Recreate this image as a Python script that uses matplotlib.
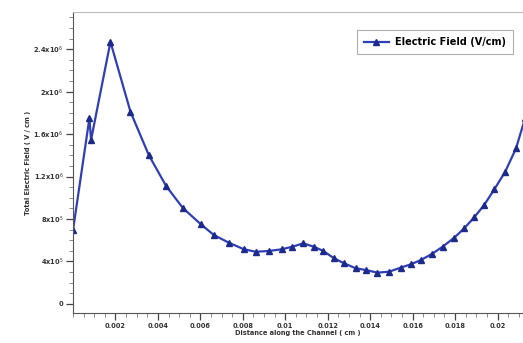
import matplotlib
matplotlib.use("Agg")
import matplotlib.pyplot as plt
from matplotlib.ticker import MultipleLocator, FixedLocator

distance_cm = [0.0, 0.000774, 0.000849, 0.001764, 0.002708, 0.003571, 0.004387, 0.005175,
               0.006009, 0.006637, 0.007344, 0.008052, 0.008604, 0.009231, 0.009830, 0.01033,
               0.01085, 0.01135, 0.01179, 0.01230, 0.01277, 0.01332, 0.01379, 0.01434,
               0.01489, 0.01544, 0.01592, 0.01639, 0.01691, 0.01741, 0.01796, 0.01843,
               0.01890, 0.01937, 0.01985, 0.02036, 0.02087, 0.02130]
field_v_cm = [6.96e5, 1.751e6, 1.544e6, 2.469e6, 1.810e6, 1.402e6, 1.111e6, 9.04e5,
              7.53e5, 6.49e5, 5.77e5, 5.15e5, 4.92e5, 4.99e5, 5.15e5, 5.39e5,
              5.71e5, 5.39e5, 4.99e5, 4.30e5, 3.83e5, 3.36e5, 3.20e5, 2.95e5,
              3.04e5, 3.42e5, 3.74e5, 4.14e5, 4.71e5, 5.39e5, 6.24e5, 7.12e5,
              8.16e5, 9.32e5, 1.080e6, 1.245e6, 1.465e6, 1.75e6]

x_ticks = [0.002, 0.004, 0.006, 0.008, 0.010, 0.012, 0.014, 0.016, 0.018, 0.020]
x_tick_labels = ["0.002", "0.004", "0.006", "0.008", "0.01", "0.012", "0.014", "0.016", "0.018", "0.02"]
y_ticks = [0, 4e5, 8e5, 1.2e6, 1.6e6, 2.0e6, 2.4e6]
y_tick_labels = ["0", r"4x10$^{5}$", r"8x10$^{5}$", r"1.2x10$^{6}$", r"1.6x10$^{6}$",
                 r"2x10$^{6}$", r"2.4x10$^{6}$"]

fig = plt.figure(figsize=(5.23, 3.43), dpi=100)
ax = fig.add_axes([0.1396, 0.0875, 0.8604, 0.8775])

ax.plot(distance_cm, field_v_cm, color="#2f3fb5", lw=1.6, marker="^", ms=4,
        markerfacecolor="#1c2a8c", markeredgecolor="#1c2a8c", label="Electric Field (V/cm)")

ax.set_xlim(0, 0.0212)
ax.set_ylim(-8.5e4, 2.75e6)
ax.xaxis.set_major_locator(FixedLocator(x_ticks))
ax.set_xticklabels(x_tick_labels, fontsize=4.8, fontweight="bold", color="#333333")
ax.yaxis.set_major_locator(FixedLocator(y_ticks))
ax.set_yticklabels(y_tick_labels, fontsize=4.8, fontweight="bold", color="#333333")
ax.xaxis.set_minor_locator(MultipleLocator(0.0005))
ax.yaxis.set_minor_locator(MultipleLocator(1e5))
ax.tick_params(which="major", direction="out", length=5, width=0.9, color="#444444", pad=2)
ax.tick_params(which="minor", direction="out", length=3, width=0.6, color="#777777")

ax.spines["top"].set_color("#bbbbbb")
ax.spines["top"].set_linewidth(0.8)
ax.spines["right"].set_visible(False)
ax.spines["left"].set_color("#555555")
ax.spines["bottom"].set_color("#555555")

ax.set_xlabel("Distance along the Channel ( cm )", fontsize=4.8, fontweight="bold",
              color="#333333", labelpad=1)
ax.set_ylabel("Total Electric Field ( V / cm )", fontsize=4.8, fontweight="bold",
              color="#333333", labelpad=2)

leg = ax.legend(loc="upper right", bbox_to_anchor=(0.988, 0.955),
                prop={"weight": "bold", "size": 7}, frameon=True, fancybox=False,
                edgecolor="#999999", handlelength=2.6, borderpad=0.7, handletextpad=0.6)
leg.get_frame().set_linewidth(0.8)

fig.savefig("out.png", dpi=100)
